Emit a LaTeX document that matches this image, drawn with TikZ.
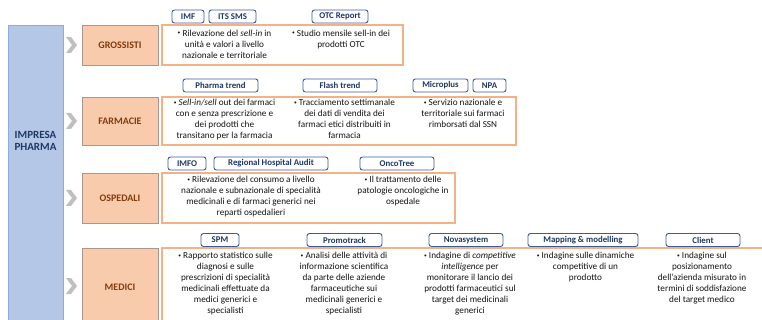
\documentclass[tikz,border=0pt]{standalone}
\usepackage{fontspec}
\setmainfont{Carlito}
\definecolor{bluefill}{RGB}{180,199,231}
\definecolor{blueline}{RGB}{143,170,220}
\definecolor{darkblue}{RGB}{31,56,100}
\definecolor{secfill}{RGB}{248,203,173}
\definecolor{secline}{RGB}{170,150,140}
\definecolor{secbrown}{RGB}{132,60,12}
\definecolor{outline}{RGB}{244,177,131}
\definecolor{tagline}{RGB}{60,90,160}
\definecolor{chevgrey}{RGB}{191,191,191}
\definecolor{txtgrey}{RGB}{20,20,20}
\newcommand{\bul}{\raisebox{0.25ex}{\scalebox{0.6}{\textbullet}}\ }

\begin{document}
\begin{tikzpicture}[x=1pt,y=-1pt,
    sect/.style={draw=secline, fill=secfill, text=secbrown, font=\fontsize{10}{12}\selectfont\bfseries, minimum width=76pt, inner sep=0pt},
    tag/.style={draw=tagline, line width=0.9pt, fill=white, rounded corners=2.5pt, text=darkblue, font=\fontsize{8.8}{10}\selectfont\bfseries, minimum height=13pt, inner sep=0pt},
    outl/.style={draw=outline, line width=1.6pt},
    txt/.style={anchor=north, align=center, inner sep=0pt, text=txtgrey, font=\fontsize{9.2}{11}\selectfont}]
            \useasboundingbox (0,0) rectangle (762,320);
            \clip (0,0) rectangle (762,320);
            \fill[white] (0,0) rectangle (762,320);
            \node[draw=blueline, fill=bluefill, minimum width=55pt, minimum height=305pt, inner sep=0pt, anchor=north west] (impresa) at (8,25) {};
            \node[text=darkblue, font=\fontsize{11}{12.5}\selectfont\bfseries, align=center] (impresalbl) at (35.5,141) {IMPRESA\\PHARMA};
            \fill[chevgrey] (66,37) -- (71,37) -- (77,45) -- (71,53) -- (66,53) -- (72,45) -- cycle;
            \fill[chevgrey] (66,113) -- (71,113) -- (77,121) -- (71,129) -- (66,129) -- (72,121) -- cycle;
            \fill[chevgrey] (66,190) -- (71,190) -- (77,198) -- (71,206) -- (66,206) -- (72,198) -- cycle;
            \fill[chevgrey] (66,278) -- (71,278) -- (77,286) -- (71,294) -- (66,294) -- (72,286) -- cycle;
            \node[sect, minimum height=40pt] (gross) at (120,45) {GROSSISTI};
            \node[sect, minimum height=48pt] (farm) at (120,121) {FARMACIE};
            \node[sect, minimum height=50pt] (osp) at (120,198) {OSPEDALI};
            \node[sect, minimum height=78pt] (med) at (120,287) {MEDICI};
            \draw[outl] (162,25) rectangle (403,65);
            \draw[outl] (162,97) rectangle (516,145);
            \draw[outl] (162,173) rectangle (455,223);
            \draw[outl] (162,248) rectangle (780,330);
            \node[tag, minimum width=32pt] (imf) at (188,16.5) {IMF};
            \node[tag, minimum width=47pt] (its) at (232.5,16.5) {ITS SMS};
            \node[tag, minimum width=56pt] (otc) at (340,16.5) {OTC Report};
            \node[tag, minimum width=75pt] (pharma) at (220.5,85.5) {Pharma trend};
            \node[tag, minimum width=74pt] (flash) at (340,85.5) {Flash trend};
            \node[tag, minimum width=55pt] (micro) at (440.5,85.5) {Microplus};
            \node[tag, minimum width=33pt] (npa) at (489.5,85.5) {NPA};
            \node[tag, minimum width=38pt] (imfo) at (187,163.5) {IMFO};
            \node[tag, minimum width=114pt] (rha) at (271,163.5) {Regional Hospital Audit};
            \node[tag, minimum width=74pt] (onco) at (397,163.5) {OncoTree};
            \node[tag, minimum width=38pt] (spm) at (220,240) {SPM};
            \node[tag, minimum width=75pt] (promo) at (344.5,240) {Promotrack};
            \node[tag, minimum width=74pt] (nova) at (466,240) {Novasystem};
            \node[tag, minimum width=110pt] (mapping) at (583,240) {Mapping \& modelling};
            \node[tag, minimum width=74pt] (client) at (703,240) {Client};
            \node[txt] (gross1) at (224.5,29.5) {\bul Rilevazione del \textit{sell-in} in\\unità e valori a livello\\nazionale e territoriale};
            \node[txt] (gross2) at (341,29.5) {\bul Studio mensile sell-in dei\\prodotti OTC};
            \node[txt] (farm1) at (224.5,99) {\bul \textit{Sell-in/sell} out dei farmaci\\con e senza prescrizione e\\dei prodotti che\\transitano per la farmacia};
            \node[txt] (farm2) at (344.5,99) {\bul Tracciamento settimanale\\dei dati di vendita dei\\farmaci etici distribuiti in\\farmacia};
            \node[txt] (farm3) at (463,99) {\bul Servizio nazionale e\\territoriale sui farmaci\\rimborsati dal SSN};
            \node[txt] (osp1) at (251,176) {\bul Rilevazione del consumo a livello\\nazionale e subnazionale di specialità\\medicinali e di farmaci generici nei\\reparti ospedalieri};
            \node[txt] (osp2) at (403,176) {\bul Il trattamento delle\\patologie oncologiche in\\ospedale};
            \node[txt] (med1) at (225.5,252) {\bul Rapporto statistico sulle\\diagnosi e sulle\\prescrizioni di specialità\\medicinali effettuate da\\medici generici e\\specialisti};
            \node[txt] (med2) at (344,252) {\bul Analisi delle attività di\\informazione scientifica\\da parte delle aziende\\farmaceutiche sui\\medicinali generici e\\specialisti};
            \node[txt] (med3) at (470,252) {\bul Indagine di \textit{competitive}\\\textit{intelligence} per\\monitorare il lancio dei\\prodotti farmaceutici sul\\target dei medicinali\\generici};
            \node[txt] (med4) at (585.5,252) {\bul Indagine sulle dinamiche\\competitive di un\\prodotto};
            \node[txt] (med5) at (702,252) {\bul Indagine sul\\posizionamento\\dell’azienda misurato in\\termini di soddisfazione\\del target medico};
\end{tikzpicture}
\end{document}
